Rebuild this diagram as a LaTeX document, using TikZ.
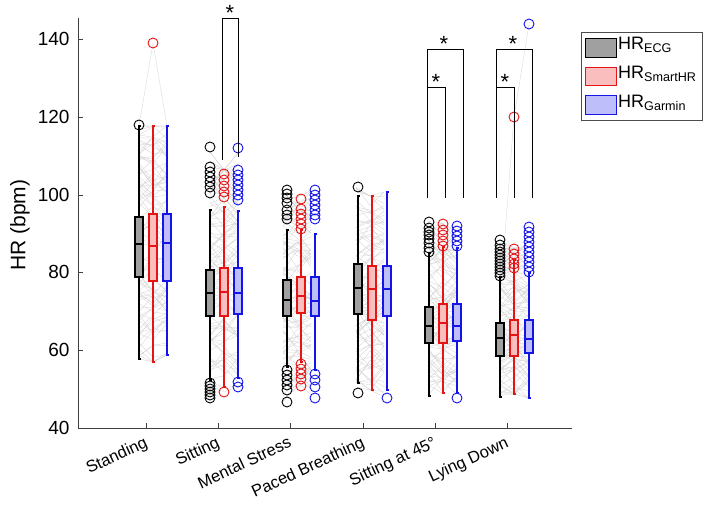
\documentclass[tikz,border=0pt]{standalone}
\usepackage{fontspec}
\setmainfont{Liberation Sans}
\definecolor{gfill}{RGB}{160,160,160}
\definecolor{rfill}{RGB}{250,190,190}
\definecolor{bfill}{RGB}{190,190,250}
\definecolor{rline}{RGB}{230,20,20}
\definecolor{bline}{RGB}{20,20,230}
\begin{document}
\begin{tikzpicture}[x=1pt,y=-1pt,
  axis/.style={line width=0.8pt,draw=black!75},
  spag/.style={draw=black!18,line width=0.3pt},
  outl/.style={line width=0.9pt},
  brk/.style={line width=0.8pt,draw=black},
  star/.style={font=\fontsize{22}{22}\selectfont,inner sep=0pt}]
\useasboundingbox (0,0) rectangle (707,526);
\newcommand{\bx}[8]{%
  \draw[#7,line width=1.1pt] (#1,#5) -- (#1,#2) (#1,#3) -- (#1,#6);
  \draw[#7,line width=1.1pt] (#1-1.5,#5) -- (#1+1.5,#5) (#1-1.5,#6) -- (#1+1.5,#6);
  \draw[#7,fill=#8,line width=1.1pt] (#1-4,#2) rectangle (#1+4,#3);
  \draw[#7,line width=1.1pt] (#1-4,#4) -- (#1+4,#4);}
\newcommand{\outs}[3]{\foreach \yy in {#3} \draw[#2,outl] (#1,\yy) circle (5);}
\newcommand{\spg}[7]{%
  \foreach \k in {1,...,90}{
    \pgfmathsetmacro\ya{#2+rnd*(#3-#2)}
    \pgfmathsetmacro\yb{\ya+(rnd-0.5)*40}
    \pgfmathsetmacro\yb{max(#4,min(#5,\yb))}
    \pgfmathsetmacro\yc{\yb+(rnd-0.5)*40}
    \pgfmathsetmacro\yc{max(#6,min(#7,\yc))}
    \draw[spag] (#1-7,\ya) -- (#1+7,\yb) -- (#1+21,\yc);}}
\pgfmathsetseed{7}
\spg{146}{126}{359}{126}{362}{126}{355}
\draw[spag] (139,126) -- (153,43) -- (167,126);
\spg{217}{150}{393}{170}{392}{148}{387}
\spg{290}{190}{402}{197}{387}{190}{398}
\spg{363}{187}{393}{196}{390}{192}{398}
\spg{435}{220}{396}{223}{393}{225}{398}
\spg{507}{240}{397}{248}{394}{227}{398}
\draw[spag] (500,300) -- (514,117) -- (529,24);
% axes
\node[coordinate] (o) at (78,428) {};
\node[coordinate] (yt) at (78,18) {};
\node[coordinate] (xe) at (572,428) {};
\draw[axis] (yt) -- (o) -- (xe);
\foreach \v/\yy in {40/428,60/350,80/272,100/195,120/117,140/39}{
  \draw[axis] (78,\yy) -- (83,\yy);
  \node[anchor=east,font=\fontsize{19}{19}\selectfont] at (73,\yy) {\v};}
\node[rotate=90,font=\fontsize{21}{21}\selectfont] (yl) at (20,225) {HR (bpm)};
\foreach \x/\t in {146/Standing,218/Sitting,290/Mental Stress,363/Paced Breathing,435/Sitting at 45°,507/Lying Down}{
  \draw[axis] (\x,428) -- (\x,423);
  \node[anchor=north east,rotate=25,font=\fontsize{16.5}{16.5}\selectfont,inner sep=1pt] at (\x-2,434) {\t};}
% Standing
\bx{139}{217}{277}{244}{126}{359}{black}{gfill}
\bx{153}{214}{281}{246}{126}{362}{rline}{rfill}
\bx{167}{214}{281}{243}{126}{355}{bline}{bfill}
\outs{139}{black}{125}
\outs{153}{rline}{43}
% Sitting
\bx{210}{270}{316}{293}{210}{380}{black}{gfill}
\bx{224}{268}{316}{292}{207}{387}{rline}{rfill}
\bx{238}{268}{314}{293}{211}{378}{bline}{bfill}
\outs{210}{black}{147,167,172,177,182,187,193,383,386,389,392,395,398}
\outs{224}{rline}{174,180,186,192,197,392}
\outs{238}{bline}{148,170,175,180,185,190,195,200,382,387}
% Mental stress
\bx{287}{280}{316}{300}{230}{367}{black}{gfill}
\bx{301}{277}{313}{296}{230}{362}{rline}{rfill}
\bx{315}{277}{316}{301}{234}{370}{bline}{bfill}
\outs{287}{black}{190,194,198,203,210,215,219,370,375,380,385,390,402}
\outs{301}{rline}{199,209,214,219,224,229,364,369,374,379,386}
\outs{315}{bline}{190,195,200,205,210,215,219,374,380,387,398}
% Paced breathing
\bx{358}{264}{314}{288}{196}{383}{black}{gfill}
\bx{372}{266}{320}{289}{196}{390}{rline}{rfill}
\bx{387}{266}{316}{289}{192}{390}{bline}{bfill}
\outs{358}{black}{187,393}
\outs{387}{bline}{398}
% Sitting at 45
\bx{429}{307}{343}{326}{253}{396}{black}{gfill}
\bx{443}{304}{343}{323}{247}{393}{rline}{rfill}
\bx{457}{304}{341}{326}{248}{393}{bline}{bfill}
\outs{429}{black}{222,228,232,235,239,243,248,252}
\outs{443}{rline}{224,230,235,241,246}
\outs{457}{bline}{226,231,236,241,246,398}
% Lying down
\bx{500}{323}{356}{338}{277}{397}{black}{gfill}
\bx{514}{320}{356}{335}{260}{394}{rline}{rfill}
\bx{529}{320}{353}{339}{273}{398}{bline}{bfill}
\outs{500}{black}{240,245,249,252,255,258,261,264,267,270,273,276}
\outs{514}{rline}{117,249,254,259,264,268}
\outs{529}{bline}{24,227,232,237,242,247,252,257,262,267,272}
% significance brackets
\draw[brk] (222,160) -- (222,18) -- (238,18) -- (238,157);
\node[star] (s1) at (230,13) {*};
\draw[brk] (427,198) -- (427,49) -- (463,49) -- (463,198);
\draw[brk] (427,87) -- (445,87) -- (445,198);
\node[star] (s2) at (444,44) {*};
\node[star] (s3) at (436,82) {*};
\draw[brk] (496,198) -- (496,49) -- (532,49) -- (532,198);
\draw[brk] (496,87) -- (514,87) -- (514,198);
\node[star] (s4) at (513,44) {*};
\node[star] (s5) at (505,82) {*};
% legend
\draw[line width=0.8pt,draw=black!70,fill=white] (581,32) rectangle (702,120);
\draw[black,fill=gfill,line width=0.9pt] (585,38) rectangle (616,57);
\draw[rline,fill=rfill,line width=0.9pt] (585,67) rectangle (616,85);
\draw[bline,fill=bfill,line width=0.9pt] (585,95) rectangle (616,114);
\node[anchor=west,inner sep=0pt,font=\fontsize{18}{18}\selectfont] (l1) at (618,45) {HR\textsubscript{ECG}};
\node[anchor=west,inner sep=0pt,font=\fontsize{18}{18}\selectfont] (l2) at (618,74) {HR\textsubscript{SmartHR}};
\node[anchor=west,inner sep=0pt,font=\fontsize{18}{18}\selectfont] (l3) at (618,103) {HR\textsubscript{Garmin}};
\end{tikzpicture}
\end{document}
